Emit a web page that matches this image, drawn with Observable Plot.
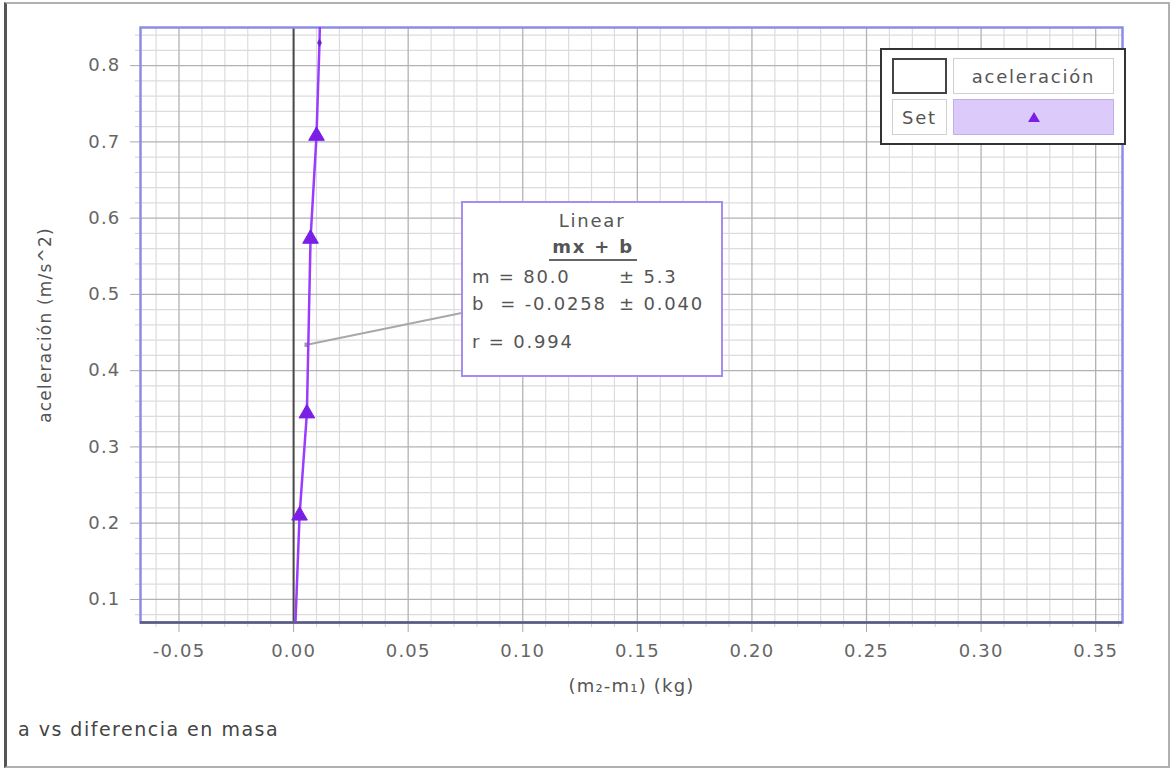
<!DOCTYPE html>
<html>
<head>
<meta charset="utf-8">
<script src="https://cdn.jsdelivr.net/npm/d3@7"></script>
<script src="https://cdn.jsdelivr.net/npm/@observablehq/plot@0.6"></script>
<style>
  html, body { margin: 0; padding: 0; background: #fff; overflow: hidden; }
  #wrap { position: relative; width: 1176px; height: 772px; font-family: "DejaVu Sans", sans-serif; }
  #chart { position: absolute; left: 0; top: 0; }
  .abs { position: absolute; box-sizing: border-box; }
  #outer { left: 4px; top: 2px; width: 1166px; height: 766px; border: 2px solid #b0b0b0; border-left: 3px solid #555; pointer-events: none; }
  #caption { left: 18px; top: 718px; font-size: 19px; letter-spacing: 1.5px; color: #444; white-space: nowrap; }
  #legend { left: 880px; top: 48px; width: 246px; height: 97px; border: 2px solid #333; background: #fff; }
  .cell { position: absolute; box-sizing: border-box; border: 1px solid #d0d0d0; background: #fff;
          display: flex; align-items: center; justify-content: center; font-size: 18px; letter-spacing: 1.8px; color: #555; }
  #fit { left: 461px; top: 201px; width: 262px; height: 176px; border: 2px solid #a58cf0; background: #fff; color: #555; font-size: 18px; letter-spacing: 1.8px; }
  #fit div { position: absolute; white-space: pre; line-height: 20px; }
</style>
</head>
<body>
<div id="wrap">
  <div id="chart"></div>
  <div id="fit" class="abs"></div>
  <div id="legend" class="abs"></div>
  <div id="caption" class="abs"></div>
  <div id="outer" class="abs"></div>
</div>
<script>
// ---- data ----
const massDiff = [0.0007, 0.0026, 0.0058, 0.0074, 0.0100, 0.0113, 0.0117]; // (m2-m1) kg
const accel    = [0.060,  0.210,  0.344,  0.573,  0.708,  0.830,  0.880];  // m/s^2
const marker   = ["none", "triangle", "triangle", "triangle", "triangle", "small", "none"];

const xTicks = [-0.05, 0.00, 0.05, 0.10, 0.15, 0.20, 0.25, 0.30, 0.35];
const yTicks = [0.1, 0.2, 0.3, 0.4, 0.5, 0.6, 0.7, 0.8];
const xMinor = [-0.06,-0.04,-0.03,-0.02,-0.01,0.01,0.02,0.03,0.04,0.06,0.07,0.08,0.09,0.11,0.12,0.13,0.14,0.16,0.17,0.18,0.19,
                0.21,0.22,0.23,0.24,0.26,0.27,0.28,0.29,0.31,0.32,0.33,0.34,0.36];
const yMinor = [0.08,0.12,0.14,0.16,0.18,0.22,0.24,0.26,0.28,0.32,0.34,0.36,0.38,0.42,0.44,0.46,0.48,
                0.52,0.54,0.56,0.58,0.62,0.64,0.66,0.68,0.72,0.74,0.76,0.78,0.82,0.84];
const xDomain = [-0.0668, 0.3617];
const yDomain = [0.0698, 0.85];

// linear fit result shown in the annotation
const fitTitle = "Linear";
const fitFormula = "mx + b";
const fitM = 80.0, fitMErr = "± 5.3";
const fitB = -0.0258, fitBErr = "± 0.040";
const fitR = 0.994;
const fitPointerA = 0.434;                      // acceleration where the pointer meets the fit
const fitLabelAnchor = {x: 0.0733, y: 0.4756};  // left edge of the annotation box (data units)

const legendHeader = "aceleración";
const legendSet = "Set";
const captionText = "a vs diferencia en masa";
const xLabel = "(m₂-m₁) (kg)";
const yLabel = "aceleración (m/s^2)";

const points = massDiff.map((x, i) => ({x, y: accel[i], marker: marker[i]}));
const pointerX = (fitPointerA - fitB) / fitM;

const chart = Plot.plot({
  width: 1176, height: 772,
  marginLeft: 140, marginRight: 54, marginTop: 27, marginBottom: 150,
  x: {domain: xDomain},
  y: {domain: yDomain},
  style: {fontFamily: "DejaVu Sans, sans-serif", fontSize: "18px", letterSpacing: "1.2px", color: "#666", background: "transparent"},
  marks: [
    Plot.ruleX(xMinor, {stroke: "#dcdcdc", strokeWidth: 1.2}),
    Plot.ruleY(yMinor, {stroke: "#dcdcdc", strokeWidth: 1.2}),
    Plot.ruleX(xTicks, {stroke: "#b2b2b2", strokeWidth: 1.3}),
    Plot.ruleY(yTicks, {stroke: "#b2b2b2", strokeWidth: 1.3}),
    Plot.ruleX([0], {stroke: "#4a4a4a", strokeWidth: 2}),
    Plot.axisX({ticks: xMinor, tickSize: 5, tickFormat: () => "", stroke: "#d0d0d0", label: null}),
    Plot.axisY({ticks: yMinor, tickSize: 5, tickFormat: () => "", stroke: "#d0d0d0", label: null}),
    Plot.axisX({ticks: xTicks, tickSize: 10, tickPadding: 12, tickFormat: d => d.toFixed(2), stroke: "#aaa", fill: "#666", label: null}),
    Plot.axisY({ticks: yTicks, tickSize: 10, tickPadding: 10, tickFormat: d => d.toFixed(1), stroke: "#aaa", fill: "#666", label: null}),
    Plot.frame({stroke: "#8c8ce6", strokeWidth: 2.5}),
    Plot.ruleY([yDomain[0]], {stroke: "#5a5a7e", strokeWidth: 2.5}),
    Plot.link([fitM], {x1: () => pointerX, y1: () => fitPointerA, x2: () => fitLabelAnchor.x, y2: () => fitLabelAnchor.y,
                       stroke: "#a8a8a8", strokeWidth: 2}),
    Plot.dot([fitM], {x: () => pointerX, y: () => fitPointerA, symbol: "square", r: 2.5, fill: "#999", stroke: "none"}),
    Plot.line(points, {x: "x", y: "y", stroke: "#9a3cff", strokeWidth: 2.5, clip: true}),
    Plot.dot(points.filter(d => d.marker === "triangle"), {x: "x", y: "y", symbol: "triangle", r: 5.8, fill: "#7a1fe6", stroke: "#7a1fe6", strokeWidth: 1}),
    Plot.dot(points.filter(d => d.marker === "small"), {x: "x", y: "y", symbol: "diamond", r: 2.5, fill: "#6a1fd0", stroke: "none"}),
    Plot.text([yLabel], {text: d => d, frameAnchor: "left", textAnchor: "middle", rotate: -90, dx: -95, fontSize: 17, letterSpacing: 1.4, fill: "#555"}),
    Plot.text([xLabel], {text: d => d, frameAnchor: "bottom", textAnchor: "middle", dy: 69, fontSize: 18, fill: "#555"})
  ]
});
document.getElementById("chart").appendChild(chart);

// caption
document.getElementById("caption").textContent = captionText;

// legend
const legend = document.getElementById("legend");
function cell(l, t, w, h, extra) {
  const c = document.createElement("div");
  c.className = "cell";
  c.style.left = l + "px"; c.style.top = t + "px"; c.style.width = w + "px"; c.style.height = h + "px";
  Object.assign(c.style, extra || {});
  legend.appendChild(c);
  return c;
}
cell(10, 8, 55, 36, {border: "2px solid #444"});
cell(71, 8, 161, 36).textContent = legendHeader;
cell(10, 49, 55, 36).textContent = legendSet;
cell(71, 49, 161, 36, {background: "#dccbfa", border: "1px solid #c0b0e8"}).innerHTML =
  '<svg width="14" height="12" viewBox="0 0 14 12"><polygon points="7,1 13,11 1,11" fill="#7a1fe6"/></svg>';

// fit annotation
const fit = document.getElementById("fit");
function line(txt, l, top, extra) {
  const d = document.createElement("div");
  d.textContent = txt;
  d.style.left = l + "px"; d.style.top = top + "px";
  Object.assign(d.style, extra || {});
  fit.appendChild(d);
  return d;
}
line(fitTitle, 0, 8, {width: "258px", textAlign: "center"});
line(fitFormula, 86, 34, {fontWeight: "bold", borderBottom: "2px solid #666", paddingBottom: "2px", width: "88px", textAlign: "center"});
line("m = " + fitM.toFixed(1), 9, 64);
line(fitMErr, 156, 64);
line("b  = " + fitB.toFixed(4), 9, 91);
line(fitBErr, 156, 91);
line("r = " + fitR.toFixed(3), 9, 129);
</script>
</body>
</html>
